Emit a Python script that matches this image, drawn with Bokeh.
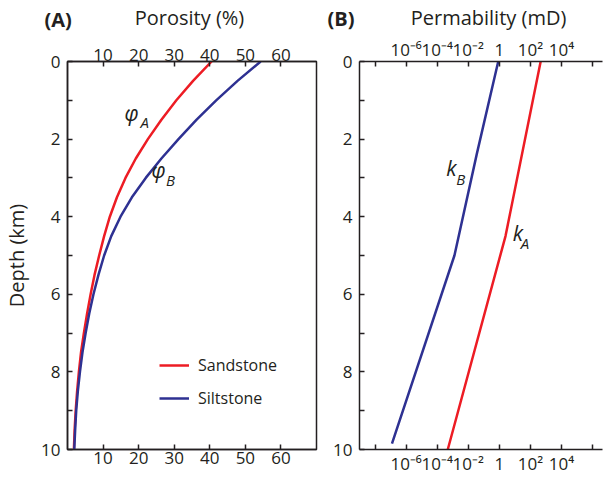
from bokeh.plotting import figure
from bokeh.layouts import row, column
from bokeh.models import (Range1d, FixedTicker, LinearAxis, LogAxis,
                          CustomJSTickFormatter, Legend, LegendItem)
from bokeh.core.properties import value
from bokeh.embed import file_html
from bokeh.resources import INLINE

# ---------------- data ----------------
depth = [0, 0.5, 1, 1.5, 2, 2.5, 3, 3.5, 4, 4.5, 5, 5.5, 6, 6.5, 7, 7.5, 8, 8.5, 9, 9.5, 10]
phi_sandstone = [40.5, 35.3, 30.6, 26.4, 22.6, 19.2, 16.3, 13.9, 11.9, 10.3, 8.9, 7.6, 6.5,
                 5.5, 4.6, 3.8, 3.2, 2.7, 2.3, 2.0, 1.8]
phi_siltstone = [54.3, 47.8, 41.8, 36.3, 31.2, 26.4, 22.0, 18.1, 14.9, 12.3, 10.3, 8.7, 7.3,
                 6.1, 5.1, 4.2, 3.5, 2.9, 2.45, 2.15, 1.9]

depth_kA = [0, 4.5, 10]
k_sandstone = [457, 2.5, 4.8e-4]
depth_kB = [0, 2.4, 5, 9.85]
k_siltstone = [0.85, 0.0347, 1.29e-3, 1.23e-7]

porosity_ticks = [10, 20, 30, 40, 50, 60]
depth_ticks = [0, 2, 4, 6, 8, 10]
depth_minor_ticks = [1, 3, 5, 7, 9]
perm_ticks = [1e-8, 1e-6, 1e-4, 1e-2, 1, 1e2, 1e4, 1e6]
perm_labels = ["", "10\u207b\u2076", "10\u207b\u2074", "10\u207b\u00b2", "1", "10\u00b2", "10\u2074", ""]

panel_titles = ["(A)", "(B)"]
axis_titles = ["Porosity (%)", "Permability (mD)"]

RED = "#ED1C24"
BLUE = "#2E3192"
INK = "#231f20"
FONT = "Open Sans"
HEADER_H = 33


def style_axis(ax, minor=False, standoff=4):
    ax.axis_line_color = INK
    ax.axis_line_width = 1.5
    ax.major_tick_line_color = INK
    ax.major_tick_line_width = 1.5
    ax.major_tick_in = 5
    ax.major_tick_out = 0
    ax.minor_tick_line_color = INK if minor else None
    ax.minor_tick_line_width = 1.5
    ax.minor_tick_in = 5
    ax.minor_tick_out = 0
    ax.major_label_text_font = FONT
    ax.major_label_text_font_size = "17px"
    ax.major_label_text_color = INK
    ax.major_label_standoff = standoff
    ax.axis_label_text_font = FONT
    ax.axis_label_text_font_size = "20px"
    ax.axis_label_text_font_style = "normal"
    ax.axis_label_text_color = INK
    ax.axis_label_standoff = 8


# ---------------- header row (panel letters and top axis titles) ----------------
header = figure(width=603, height=HEADER_H, x_range=Range1d(0, 603), y_range=Range1d(HEADER_H, 0),
                output_backend="svg", toolbar_location=None, min_border=0)
header.axis.visible = False
header.grid.visible = False
header.outline_line_color = None
header.text(x=[44, 327], y=[19, 18], text=panel_titles, text_font=value(FONT),
            text_font_size="20px", text_font_style="bold", text_baseline="middle",
            text_align="left", text_color=INK)
header.text(x=[189, 488], y=[17, 17], text=axis_titles, text_font=value(FONT),
            text_font_size="20px", text_baseline="middle", text_align="center", text_color=INK)

MAIN_H = 477 - HEADER_H
TOP = 61 - HEADER_H

# ---------------- panel A ----------------
pA = figure(width=330, height=MAIN_H, x_range=Range1d(0, 70), y_range=Range1d(10, 0),
            x_axis_location="above", output_backend="svg", toolbar_location=None,
            min_border_left=66, min_border_top=TOP, min_border_bottom=27, min_border_right=14)
pA.grid.visible = False
pA.outline_line_color = INK
pA.outline_line_width = 1.5
pA.xaxis.ticker = FixedTicker(ticks=porosity_ticks)
pA.yaxis.axis_label = "Depth (km)"
pA.yaxis.ticker = FixedTicker(ticks=depth_ticks, minor_ticks=depth_minor_ticks)
bottomA = LinearAxis(ticker=FixedTicker(ticks=porosity_ticks))
pA.add_layout(bottomA, "below")
style_axis(pA.above[0], standoff=1)
style_axis(bottomA, standoff=2)
for ax in pA.yaxis:
    style_axis(ax, minor=True, standoff=7)

rA = pA.line(phi_sandstone, depth, line_color=RED, line_width=2.5)
rB = pA.line(phi_siltstone, depth, line_color=BLUE, line_width=2.5)

legend = Legend(items=[LegendItem(label="Sandstone", renderers=[rA]),
                       LegendItem(label="Siltstone", renderers=[rB])],
                location=(92, 40))
legend.border_line_color = None
legend.background_fill_alpha = 0
legend.label_text_font = FONT
legend.label_text_font_size = "16px"
legend.label_text_color = INK
legend.glyph_width = 30
legend.glyph_height = 20
legend.label_height = 20
legend.spacing = 11
legend.padding = 0
legend.margin = 0
legend.label_standoff = 9
pA.add_layout(legend)

pA.text(x=[16.0], y=[1.32], text=["\u03c6"], text_font=value(FONT), text_font_size="21px",
        text_font_style="italic", text_baseline="middle", text_align="left", text_color=INK)
pA.text(x=[20.5], y=[1.55], text=["A"], text_font=value(FONT), text_font_size="15px",
        text_font_style="italic", text_baseline="middle", text_align="left", text_color=INK)
pA.text(x=[23.6], y=[2.8], text=["\u03c6"], text_font=value(FONT), text_font_size="21px",
        text_font_style="italic", text_baseline="middle", text_align="left", text_color=INK)
pA.text(x=[27.7], y=[3.05], text=["B"], text_font=value(FONT), text_font_size="15px",
        text_font_style="italic", text_baseline="middle", text_align="left", text_color=INK)

# ---------------- panel B ----------------
pB = figure(width=273, height=MAIN_H, x_axis_type="log", x_range=Range1d(1e-9, 10 ** 6.64),
            y_range=Range1d(10, 0), x_axis_location="above", output_backend="svg",
            toolbar_location=None, min_border_left=28, min_border_top=TOP,
            min_border_bottom=27, min_border_right=1)
pB.grid.visible = False
pB.outline_line_color = None
fmt = CustomJSTickFormatter(args=dict(tvals=perm_ticks, tlabels=perm_labels), code="""
const lt = Math.log10(tick);
for (let i = 0; i < tvals.length; i++) {
  if (Math.abs(Math.log10(tvals[i]) - lt) < 1e-6) return tlabels[i];
}
return "";
""")
pB.xaxis.ticker = FixedTicker(ticks=perm_ticks)
pB.xaxis.formatter = fmt
pB.yaxis.ticker = FixedTicker(ticks=depth_ticks, minor_ticks=depth_minor_ticks)
bottomB = LogAxis(ticker=FixedTicker(ticks=perm_ticks), formatter=fmt)
pB.add_layout(bottomB, "below")
style_axis(pB.above[0], standoff=1)
style_axis(bottomB, standoff=2)
for ax in pB.yaxis:
    style_axis(ax, minor=True, standoff=7)

pB.line(k_sandstone, depth_kA, line_color=RED, line_width=2.5)
pB.line(k_siltstone, depth_kB, line_color=BLUE, line_width=2.5)

pB.text(x=[10 ** -3.42], y=[2.74], text=["k"], text_font=value(FONT), text_font_size="21px",
        text_font_style="italic", text_baseline="middle", text_align="left", text_color=INK)
pB.text(x=[10 ** -2.78], y=[3.03], text=["B"], text_font=value(FONT), text_font_size="15px",
        text_font_style="italic", text_baseline="middle", text_align="left", text_color=INK)
pB.text(x=[10 ** 0.87], y=[4.41], text=["k"], text_font=value(FONT), text_font_size="21px",
        text_font_style="italic", text_baseline="middle", text_align="left", text_color=INK)
pB.text(x=[10 ** 1.38], y=[4.69], text=["A"], text_font=value(FONT), text_font_size="15px",
        text_font_style="italic", text_baseline="middle", text_align="left", text_color=INK)

layout = column(header, row(pA, pB), spacing=0)
open("out.html", "w").write(file_html(layout, INLINE))
